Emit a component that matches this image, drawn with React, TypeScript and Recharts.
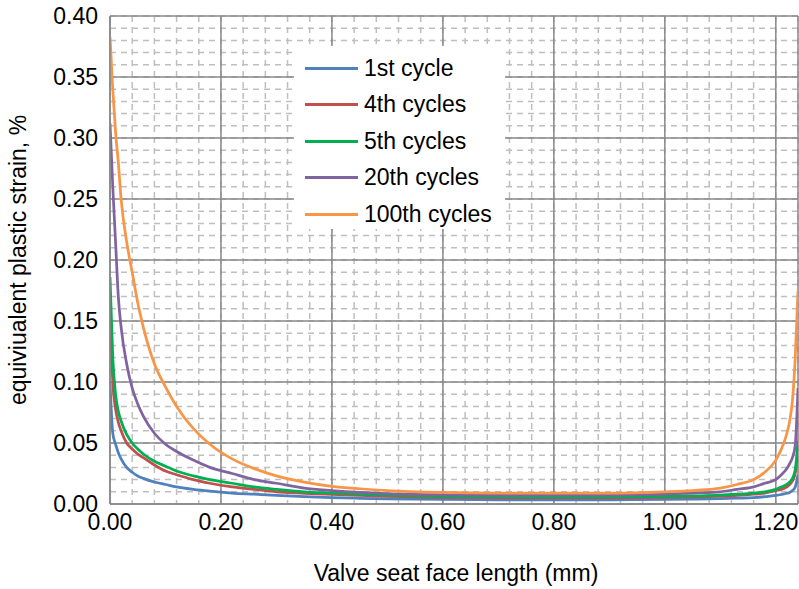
import { LineChart, Line, XAxis, YAxis, CartesianGrid, Legend, Label } from "recharts";

// x positions along the valve seat face (mm)
const positions = [
  0, 0.005, 0.01, 0.015, 0.02, 0.03, 0.04, 0.05, 0.06, 0.08, 0.1, 0.12, 0.15, 0.18, 0.22, 0.26, 0.3, 0.35, 0.4,
  0.45, 0.5, 0.6, 0.7, 0.8, 0.9, 1.0, 1.05, 1.1, 1.13, 1.16, 1.18, 1.2, 1.21, 1.22, 1.225, 1.23, 1.235, 1.24,
];

const cycle1 = [
  0.1, 0.058, 0.049, 0.042, 0.037, 0.03, 0.026, 0.023, 0.021, 0.018, 0.016, 0.014, 0.012, 0.0105, 0.009, 0.008, 0.007,
  0.006, 0.0052, 0.0047, 0.0043, 0.0037, 0.0034, 0.0033, 0.0034, 0.0037, 0.004, 0.0044, 0.0048, 0.0053, 0.006, 0.007,
  0.0078, 0.0088, 0.0095, 0.011, 0.014, 0.024,
];
const cycle4 = [
  0.165, 0.1, 0.078, 0.067, 0.06, 0.05, 0.045, 0.041, 0.038, 0.032, 0.027, 0.024, 0.02, 0.017, 0.014, 0.012, 0.01,
  0.0088, 0.0078, 0.007, 0.0063, 0.0055, 0.0051, 0.005, 0.0051, 0.0055, 0.0058, 0.0064, 0.007, 0.008, 0.009, 0.011,
  0.012, 0.014, 0.016, 0.019, 0.025, 0.045,
];
const cycle5 = [
  0.186, 0.12, 0.09, 0.076, 0.068, 0.057, 0.05, 0.045, 0.041, 0.035, 0.031, 0.027, 0.023, 0.02, 0.017, 0.014, 0.012,
  0.01, 0.009, 0.008, 0.0072, 0.0062, 0.0058, 0.0057, 0.0058, 0.0062, 0.0066, 0.0072, 0.008, 0.009, 0.01, 0.012,
  0.014, 0.016, 0.018, 0.021, 0.028, 0.052,
];
const cycle20 = [
  0.312, 0.26, 0.215, 0.17, 0.145, 0.115, 0.095, 0.082, 0.072, 0.058, 0.049, 0.043, 0.036, 0.03, 0.025, 0.02, 0.017,
  0.013, 0.011, 0.0095, 0.0085, 0.0075, 0.007, 0.007, 0.0072, 0.008, 0.009, 0.01, 0.012, 0.014, 0.017, 0.02, 0.024,
  0.029, 0.033, 0.038, 0.048, 0.095,
];
const cycle100 = [
  0.383, 0.34, 0.305, 0.28, 0.25, 0.215, 0.19, 0.165, 0.145, 0.115, 0.096, 0.08, 0.062, 0.049, 0.037, 0.029, 0.023,
  0.018, 0.0145, 0.0125, 0.011, 0.0095, 0.009, 0.009, 0.009, 0.01, 0.011, 0.013, 0.016, 0.02, 0.026, 0.036, 0.045, 0.058,
  0.068, 0.085, 0.12, 0.175,
];

const seriesNames = ["1st cycle", "4th cycles", "5th cycles", "20th cycles", "100th cycles"];
const seriesColors = ["#4F81BD", "#C0504D", "#00B050", "#8064A2", "#F79646"];
const seriesValues = [cycle1, cycle4, cycle5, cycle20, cycle100];

const xTicks = [0, 0.2, 0.4, 0.6, 0.8, 1.0, 1.2];
const yTicks = [0, 0.05, 0.1, 0.15, 0.2, 0.25, 0.3, 0.35, 0.4];
const X_MAX = 1.24;
const Y_MAX = 0.4;
const X_MINOR = 0.04;
const Y_MINOR = 0.01;

const data = positions.map((x, i) => {
  const row: Record<string, number> = { x };
  seriesNames.forEach((name, s) => {
    row[name] = seriesValues[s][i];
  });
  return row;
});

const FONT = "'Liberation Sans', Arial, sans-serif";
const FS = 23;

const minorX = Array.from({ length: Math.round(X_MAX / X_MINOR) + 1 }, (_, i) => i * X_MINOR);
const minorY = Array.from({ length: Math.round(Y_MAX / Y_MINOR) + 1 }, (_, i) => i * Y_MINOR);

function LegendBox() {
  return (
    <div
      style={{
        background: "#fff",
        width: 211,
        height: 183,
        boxSizing: "border-box",
        paddingTop: 4,
        fontFamily: FONT,
        fontSize: FS,
      }}
    >
      {seriesNames.map((name, i) => (
        <div key={name} style={{ display: "flex", alignItems: "center", height: 36.5, whiteSpace: "nowrap" }}>
          <div style={{ marginLeft: 11, width: 53, height: 3, background: seriesColors[i] }} />
          <span style={{ marginLeft: 6, color: "#000" }}>{name}</span>
        </div>
      ))}
    </div>
  );
}

export default function App() {
  return (
    <div style={{ position: "absolute", left: 0, top: 0 }}>
      <LineChart width={799} height={589} data={data} margin={{ top: 16, right: 1, left: 0, bottom: 4 }}>
        <CartesianGrid
          stroke="#BFBFBF"
          strokeWidth={1.5}
          strokeDasharray="6 5"
          horizontalCoordinatesGenerator={({ offset }: any) =>
            minorY.map((v) => offset.top + offset.height * (1 - v / Y_MAX))
          }
          verticalCoordinatesGenerator={({ offset }: any) => minorX.map((v) => offset.left + (offset.width * v) / X_MAX)}
        />
        <CartesianGrid stroke="#898989" strokeWidth={1.5} />
        <XAxis
          type="number"
          dataKey="x"
          domain={[0, X_MAX]}
          ticks={xTicks}
          allowDataOverflow
          tickFormatter={(v: number) => v.toFixed(2)}
          tick={{ fill: "#000", fontSize: FS, fontFamily: FONT }}
          tickLine={false}
          tickSize={0}
          tickMargin={10}
          axisLine={{ stroke: "#898989", strokeWidth: 1.5 }}
          height={81}
        >
          <Label
            content={({ viewBox }: any) => (
              <text
                x={viewBox.x + viewBox.width / 2 + 2}
                y={viewBox.y + viewBox.height - 4}
                textAnchor="middle"
                fontSize={FS}
                fontFamily={FONT}
                fill="#000"
              >
                Valve seat face length (mm)
              </text>
            )}
          />
        </XAxis>
        <YAxis
          type="number"
          domain={[0, Y_MAX]}
          ticks={yTicks}
          allowDataOverflow
          tickFormatter={(v: number) => v.toFixed(2)}
          tick={{ fill: "#000", fontSize: FS, fontFamily: FONT }}
          tickLine={false}
          tickSize={0}
          tickMargin={12}
          axisLine={{ stroke: "#898989", strokeWidth: 1.5 }}
          width={110}
        >
          <Label
            content={({ viewBox }: any) => {
              const cx = 18;
              const cy = viewBox.y + viewBox.height / 2;
              return (
                <text
                  x={cx}
                  y={cy}
                  transform={`rotate(-90 ${cx} ${cy})`}
                  textAnchor="middle"
                  dominantBaseline="central"
                  fontSize={FS}
                  fontFamily={FONT}
                  fill="#000"
                >
                  equiviualent plastic strain, %
                </text>
              );
            }}
          />
        </YAxis>
        <Legend
          layout="vertical"
          align="center"
          verticalAlign="middle"
          content={() => <LegendBox />}
          wrapperStyle={{ position: "absolute", left: 294, top: 46, width: 211, height: 183 }}
        />
        {seriesNames.map((name, i) => (
          <Line
            key={name}
            type="monotone"
            dataKey={name}
            stroke={seriesColors[i]}
            strokeWidth={2.75}
            dot={false}
            isAnimationActive={false}
          />
        ))}
      </LineChart>
    </div>
  );
}
